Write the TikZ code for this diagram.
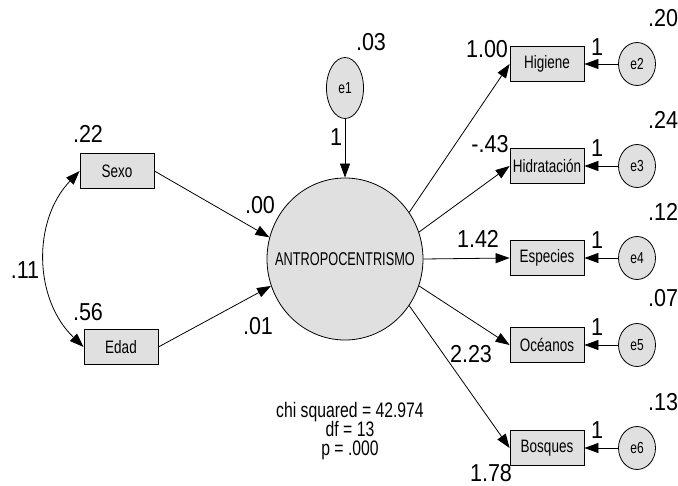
\documentclass[tikz,border=0pt]{standalone}
\usepackage{color}
\usepackage{fontspec}
\usepackage{tikz}
\usetikzlibrary{arrows,arrows.meta,shapes.geometric}
\newfontfamily\amosfont[FakeStretch=0.75]{Liberation Sans}
\newfontfamily\amosnarrow[FakeStretch=0.69]{Liberation Sans}
\newfontfamily\amosnum[FakeStretch=0.88]{Liberation Sans}
\newcommand\chifont{\amosfont\fontsize{21}{19}\selectfont\lineskiplimit=-20pt\relax}
\definecolor{boxgray}{RGB}{224,224,224}

\begin{document}
\begin{tikzpicture}[x=1pt,y=-1pt]
      \tikzstyle{every node}=[inner sep=0pt]
      \tikzstyle{obs}=[draw,fill=boxgray,rectangle,line width=0.8pt,minimum width=74pt,minimum height=35pt,font=\amosfont\fontsize{18}{18}\selectfont]
      \tikzstyle{latent}=[draw,fill=boxgray,ellipse,line width=0.8pt,minimum width=156pt,minimum height=162pt]
      \tikzstyle{err}=[draw,fill=boxgray,ellipse,line width=0.8pt,minimum width=37pt,minimum height=43pt,font=\amosfont\fontsize{16}{16}\selectfont]
      \tikzstyle{coef}=[font=\amosnum\fontsize{24.5}{24}\selectfont]
      \tikzstyle{link}=[-{Triangle[length=14pt,width=10pt]},line width=0.8pt]
      \tikzstyle{cov}=[{Triangle[length=14pt,width=10pt]}-{Triangle[length=14pt,width=10pt]},line width=0.8pt]

      \useasboundingbox (0,0) rectangle (678,486);

      \node[obs] (sexo) at (117,171) {Sexo};
      \node[obs] (edad) at (121,347) {Edad};

      \node[latent,label={[font=\amosnarrow\fontsize{18.5}{18}\selectfont]center:ANTROPOCENTRISMO}] (antro) at (345,259) {};
      \node[err,minimum height=61pt] (e1) at (345,88) {e1};

      \node[obs] (higiene) at (547,64) {Higiene};
      \node[obs] (hidrat) at (547,166) {Hidratación};
      \node[obs] (especies) at (547,258) {Especies};
      \node[obs] (oceanos) at (547,345) {Océanos};
      \node[obs] (bosques) at (547,448) {Bosques};

      \node[err] (e2) at (637,64) {e2};
      \node[err] (e3) at (637,166) {e3};
      \node[err] (e4) at (637,258) {e4};
      \node[err] (e5) at (637,345) {e5};
      \node[err] (e6) at (637,448) {e6};

      \draw[cov] (sexo.west) to[bend right=45] (edad.west);
      \draw[link] (sexo.east) -- (antro.164);
      \draw[link] (edad.east) -- (antro.200);
      \draw[link] (e1) -- (antro);

      \draw[link] (antro.36) -- (higiene.west);
      \draw[link] (antro.20) -- (hidrat.west);
      \draw[link] (antro.east) -- (especies.west);
      \draw[link] (antro.-20) -- (oceanos.west);
      \draw[link] (antro.-36) -- (bosques.west);

      \draw[link] (e2) -- (higiene);
      \draw[link] (e3) -- (hidrat);
      \draw[link] (e4) -- (especies);
      \draw[link] (e5) -- (oceanos);
      \draw[link] (e6) -- (bosques);

      % estimates
      \node[coef] (vsexo) at (88,134) {.22};
      \node[coef] (vedad) at (88,312) {.56};
      \node[coef] (csexoedad) at (25,270) {.11};
      \node[coef] (wsexo) at (260,205) {.00};
      \node[coef] (wedad) at (258,326) {.01};
      \node[coef] (ve1) at (371,42) {.03};
      \node[coef] (fe1) at (336,137) {1};

      \node[coef] (whig) at (487,49) {1.00};
      \node[coef] (whid) at (490,144) {-.43};
      \node[coef] (wesp) at (478,239) {1.42};
      \node[coef] (woce) at (471,354) {2.23};
      \node[coef] (wbos) at (491,473) {1.78};

      \node[coef] (fe2) at (597,47) {1};
      \node[coef] (fe3) at (597,148) {1};
      \node[coef] (fe4) at (597,240) {1};
      \node[coef] (fe5) at (597,327) {1};
      \node[coef] (fe6) at (597,430) {1};

      \node[coef] (ve2) at (663,18) {.20};
      \node[coef] (ve3) at (663,120) {.24};
      \node[coef] (ve4) at (663,212) {.12};
      \node[coef] (ve5) at (663,298) {.07};
      \node[coef] (ve6) at (663,402) {.13};

      \node[align=center,font=\chifont] (fit) at (350,431) {chi squared = 42.974\\df = 13\\p = .000};
\end{tikzpicture}
\end{document}
